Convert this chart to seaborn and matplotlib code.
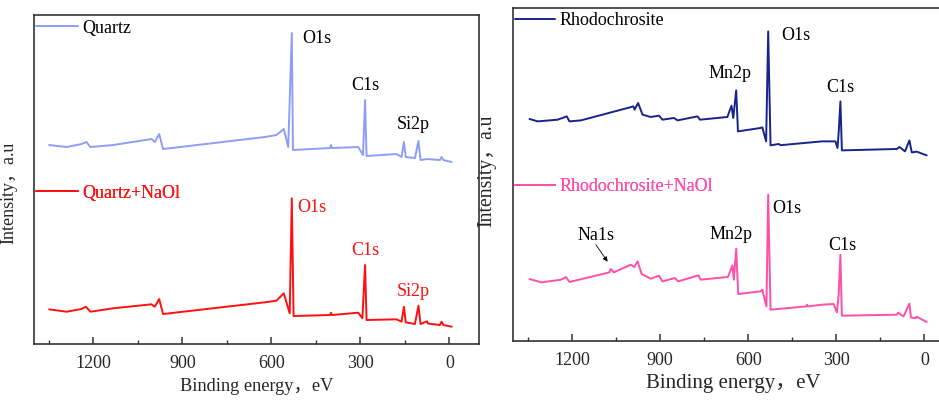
import numpy as np
import pandas as pd
import seaborn as sns
import matplotlib
matplotlib.use("Agg")
import matplotlib.pyplot as plt
from matplotlib.ticker import FixedLocator, MultipleLocator
from matplotlib.lines import Line2D

# ---------------- data (binding energy eV, intensity a.u.) ----------------
quartz_e = [1349, 1290, 1240, 1223, 1210, 1133, 1004, 993, 978, 965, 622, 583, 558, 543,
            531, 527, 402, 399, 396, 307, 291, 284, 279, 178, 161, 153, 147, 116, 104,
            97, 75, 32, 26, 20, -8]
quartz_i = [199, 197, 200, 202, 197, 199, 205, 202, 210, 195, 207, 209, 215, 197,
            311, 194, 196, 199, 196, 197, 189, 244, 188, 190, 187, 202, 187, 186, 203,
            184, 185, 184, 187, 184, 182]

qnaol_e = [1349, 1290, 1240, 1225, 1210, 1133, 1004, 993, 978, 965, 622, 583, 558, 538,
           531, 525, 402, 399, 396, 307, 293, 284, 279, 178, 161, 153, 147, 116, 104,
           97, 75, 72, 32, 26, 20, -8]
qnaol_i = [34.7, 32.3, 35, 37.3, 32.3, 35.7, 39.7, 37.3, 45, 30, 41.7, 43.3, 50.7, 30.7,
           145.7, 28, 29, 31.3, 29, 31.3, 25.7, 79, 24, 24.7, 22.3, 37.3, 21.7, 20, 38.3,
           20, 22.7, 20.5, 19, 22.3, 19, 17.3]

rhodo_e = [1345, 1317, 1249, 1218, 1209, 1170, 1011, 991, 987, 975, 960, 932, 904, 892,
           853, 841, 773, 764, 671, 657, 651, 641, 635, 558, 552, 539, 532, 524, 496,
           490, 349, 303, 296, 292, 286, 281, 94, 85, 66, 51, 43, 26, -8]
rhodo_i = [221.7, 219.3, 221, 224.3, 219.3, 220.3, 232.7, 234.3, 231, 237.7, 226, 223.7,
           225, 221, 222.7, 220.3, 224.3, 221, 223.7, 235, 222.7, 250.3, 209.3, 212.7,
           213.3, 199.3, 309.3, 195.3, 196.7, 195.5, 199.3, 199.3, 192.7, 207.7, 239.3,
           190.3, 191.7, 193.7, 189.3, 200.3, 188.3, 189, 185.3]

rnaol_e = [1345, 1305, 1238, 1221, 1209, 1073, 1068, 1058, 1000, 988, 977, 963, 932, 904,
           892, 850, 839, 770, 762, 669, 654, 649, 641, 634, 558, 552, 538, 532, 524,
           402, 400, 396, 349, 309, 298, 292, 286, 281, 94, 89, 71, 51, 46, 30, 26, -8]
rnaol_i = [61.7, 58.3, 61, 63.7, 58.7, 68.3, 71.7, 68.3, 76, 73.7, 79.3, 66.7, 62, 65,
           59.3, 62.7, 59.3, 65.3, 61, 63.7, 75.3, 61, 92, 46.7, 49.3, 51, 34.3, 146, 31,
           34.3, 36, 34.3, 36, 36.7, 28.3, 46, 86, 25, 26, 28, 24.3, 37, 23.3, 22.5, 24, 18.7]

major_ticks = [1200, 900, 600, 300, 0]
tick_labels = ["1200", "900", "600", "300", "0"]

left_names = ["Quartz", "Quartz+NaOl"]
right_names = ["Rhodochrosite", "Rhodochrosite+NaOl"]
xlabel = "Binding energy，eV"
ylabel = "Intensity，a.u"

c_quartz = "#8e9ef6"
c_qnaol = "#ff1010"
c_rhodo = "#16248c"
c_rnaol = "#ff4fa8"

# ---------------- style ----------------
sns.set_style("white")
plt.rcParams["font.family"] = ["Liberation Serif", "Noto Sans CJK SC", "DejaVu Sans"]
plt.rcParams["axes.edgecolor"] = "#333333"
plt.rcParams["axes.linewidth"] = 1.2

fig = plt.figure(figsize=(9.39, 4.01), dpi=100)
axL = fig.add_axes([0.0362, 0.1421, 0.4739, 0.8204])
axR = fig.add_axes([0.5467, 0.1504, 0.4690, 0.8297])


def draw(ax, e, i, color):
    df = pd.DataFrame({"e": e, "i": i})
    sns.lineplot(data=df, x="e", y="i", ax=ax, color=color, lw=1.4,
                 estimator=None, sort=False)


draw(axL, quartz_e, quartz_i, c_quartz)
draw(axL, qnaol_e, qnaol_i, c_qnaol)
draw(axR, rhodo_e, rhodo_i, c_rhodo)
draw(axR, rnaol_e, rnaol_i, c_rnaol)

for ax, ytop in ((axL, 329), (axR, 332.7)):
    ax.set_xlim(1400, -100)
    ax.set_ylim(0, ytop)
    ax.xaxis.set_major_locator(FixedLocator(major_ticks))
    ax.set_xticklabels(tick_labels)
    ax.xaxis.set_minor_locator(MultipleLocator(150))
    ax.tick_params(axis="x", which="major", direction="in", length=5, width=1.1,
                   labelsize=13, pad=8, bottom=True, top=False, color="#333333")
    ax.tick_params(axis="x", which="minor", direction="in", length=3, width=1.0,
                   bottom=True, top=False, color="#333333")
    ax.set_yticks([])
    for s in ax.spines.values():
        s.set_visible(True)
        s.set_color("#333333")
        s.set_linewidth(1.2)

axL.set_xlabel(xlabel, fontsize=13.2, labelpad=4)
axL.set_ylabel(ylabel, fontsize=13)
axL.yaxis.set_label_coords(-0.038, 0.459)
axR.set_xlabel(xlabel, fontsize=15, labelpad=4)
axR.set_ylabel(ylabel, fontsize=14.2)
axR.yaxis.set_label_coords(-0.039, 0.51)


def add_legend(ax, name, color, textcolor, x, y, hl):
    h = Line2D([], [], color=color, lw=1.4)
    leg = ax.legend([h], [name], loc="center left", bbox_to_anchor=(x, y),
                    frameon=False, fontsize=13, handlelength=hl, handletextpad=0.25,
                    borderaxespad=0, borderpad=0)
    for t in leg.get_texts():
        t.set_color(textcolor)
    ax.add_artist(leg)


add_legend(axL, left_names[0], c_quartz, "black", 0.005, 0.960, 2.3)
add_legend(axL, left_names[1], c_qnaol, c_qnaol, 0.005, 0.459, 2.3)
add_legend(axR, right_names[0], c_rhodo, "black", 0.003, 0.961, 2.25)
add_legend(axR, right_names[1], c_rnaol, c_rnaol, 0.003, 0.462, 2.25)

# peak annotations
fs = 13
axL.text(497, 301, "O1s", fontsize=fs, color="black", va="baseline")
axL.text(329, 254, "C1s", fontsize=fs, color="black", va="baseline")
axL.text(177, 215, "Si2p", fontsize=fs, color="black", va="baseline")
axL.text(514, 132, "O1s", fontsize=fs, color=c_qnaol, va="baseline")
axL.text(329, 89, "C1s", fontsize=fs, color=c_qnaol, va="baseline")
axL.text(177, 48, "Si2p", fontsize=fs, color=c_qnaol, va="baseline")

axR.text(488, 301, "O1s", fontsize=fs, color="black", va="baseline")
axR.text(736, 263, "Mn2p", fontsize=fs, color="black", va="baseline")
axR.text(334, 249, "C1s", fontsize=fs, color="black", va="baseline")
axR.text(518, 128, "O1s", fontsize=fs, color="black", va="baseline")
axR.text(731, 102, "Mn2p", fontsize=fs, color="black", va="baseline")
axR.text(327, 91, "C1s", fontsize=fs, color="black", va="baseline")
axR.text(1183, 101, "Na1s", fontsize=fs, color="black", va="baseline")
axR.annotate("", xy=(1079, 79), xytext=(1119, 96),
             arrowprops=dict(arrowstyle="-|>", color="black", lw=0.6,
                             mutation_scale=7, shrinkA=0, shrinkB=0))

fig.savefig("out.png", dpi=100)
